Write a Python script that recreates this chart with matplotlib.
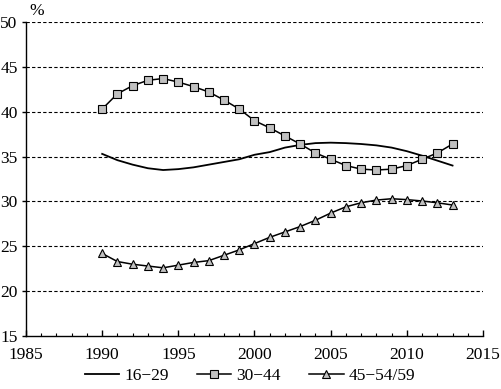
import matplotlib
matplotlib.use("Agg")
import matplotlib.pyplot as plt
from matplotlib.ticker import MultipleLocator

plt.rcParams["font.family"] = ["Liberation Serif", "DejaVu Serif"]

years = list(range(1990, 2014))
age_16_29 = [35.3, 34.6, 34.1, 33.7, 33.5, 33.6, 33.8, 34.1, 34.4, 34.7, 35.2, 35.5,
             36.0, 36.3, 36.5, 36.55, 36.5, 36.4, 36.25, 36.0, 35.6, 35.1, 34.55, 34.0]
age_30_44 = [40.3, 42.0, 42.9, 43.5, 43.7, 43.3, 42.8, 42.2, 41.3, 40.3, 39.0, 38.2,
             37.3, 36.4, 35.4, 34.7, 34.0, 33.6, 33.5, 33.6, 34.0, 34.7, 35.4, 36.4]
age_45_59 = [24.2, 23.3, 23.0, 22.8, 22.6, 22.9, 23.2, 23.4, 24.0, 24.6, 25.3, 26.0,
             26.6, 27.2, 27.9, 28.7, 29.4, 29.85, 30.15, 30.3, 30.2, 30.05, 29.85, 29.6]
labels = ["16\u221229", "30\u221244", "45\u221254/59"]

fig = plt.figure(figsize=(5.02, 3.89), dpi=100)
ax = fig.add_axes([26 / 502, 1 - 336 / 389, 457 / 502, 314 / 389])

ax.plot(years, age_16_29, color="black", lw=1.3, label=labels[0])
ax.plot(years, age_30_44, color="black", lw=1.1, marker="s", ms=5.4,
        mfc="#c0c0c0", mec="black", mew=0.8, label=labels[1])
ax.plot(years, age_45_59, color="black", lw=1.1, marker="^", ms=6.2,
        mfc="#c0c0c0", mec="black", mew=0.8, label=labels[2])

ax.set_xlim(1985, 2015)
ax.set_ylim(15, 50)
ax.xaxis.set_major_locator(MultipleLocator(5))
ax.xaxis.set_minor_locator(MultipleLocator(1))
ax.yaxis.set_major_locator(MultipleLocator(5))

for y in range(20, 51, 5):
    ax.axhline(y, color="black", lw=0.8, ls=(0, (3, 2)), zorder=0)

for s in ["top", "right"]:
    ax.spines[s].set_visible(False)
ax.spines["left"].set_linewidth(1.0)
ax.spines["bottom"].set_linewidth(1.0)

fs = 12.5
ax.tick_params(axis="x", which="major", direction="in", length=4, width=1.0,
               labelsize=fs, pad=8)
ax.tick_params(axis="x", which="minor", direction="in", length=2.5, width=0.8)
ax.tick_params(axis="y", which="major", direction="out", length=3, width=1.0,
               labelsize=fs, pad=3)

ax.text(0.008, 1.01, "%", transform=ax.transAxes, fontsize=fs,
        ha="left", va="bottom")

fig.legend(loc="center", bbox_to_anchor=(250 / 502, 1 - 376 / 389), ncol=3,
           frameon=False, fontsize=fs, handlelength=2.0, handletextpad=0.3,
           columnspacing=1.6)

fig.savefig("out.png", dpi=100)
